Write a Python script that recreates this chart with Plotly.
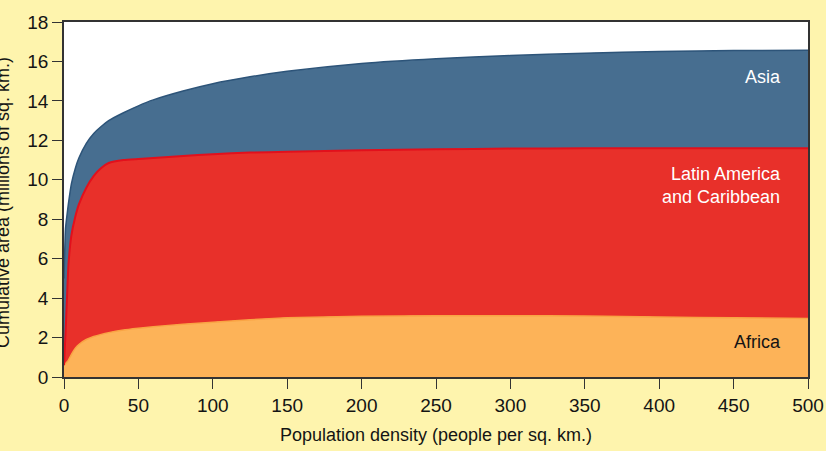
import plotly.graph_objects as go

# Population density (people per sq. km.)
density = [0, 1, 2, 3, 5, 7.5, 10, 15, 20, 25, 30, 40, 50, 60, 80, 100, 125, 150,
           200, 250, 300, 350, 400, 450, 500]

# Cumulative area (millions of sq. km.) (stack tops)
africa_top = [0.6, 0.68, 0.76, 0.86, 1.15, 1.45, 1.65, 1.9, 2.05, 2.16, 2.25, 2.38, 2.47,
              2.55, 2.68, 2.78, 2.9, 3.0, 3.08, 3.1, 3.11, 3.09, 3.04, 3.0, 2.97]
latam_top = [0.6, 2.2, 4.0, 5.7, 7.2, 8.1, 8.75, 9.6, 10.2, 10.6, 10.85, 11.0, 11.05,
             11.1, 11.2, 11.3, 11.38, 11.42, 11.5, 11.55, 11.58, 11.6, 11.6, 11.6, 11.6]
asia_top = [5.0, 7.5, 8.2, 8.8, 9.8, 10.55, 11.1, 11.85, 12.35, 12.7, 13.0, 13.4, 13.75,
            14.05, 14.5, 14.87, 15.22, 15.5, 15.9, 16.14, 16.3, 16.42, 16.5, 16.55, 16.57]

# Per-region areas (stack increments)
africa = africa_top
latam = [b - a for a, b in zip(africa_top, latam_top)]
asia = [c - b for b, c in zip(latam_top, asia_top)]

x_ticks = [0, 50, 100, 150, 200, 250, 300, 350, 400, 450, 500]
y_ticks = [0, 2, 4, 6, 8, 10, 12, 14, 16, 18]

FONT = "Liberation Sans, Arial, sans-serif"
INK = "#141414"

fig = go.Figure()
fig.add_trace(go.Scatter(x=density, y=africa, stackgroup="one", mode="lines",
                         line=dict(color="#F9A444", width=1.5, shape="spline", smoothing=0.5),
                         fillcolor="#FDB358", name="Africa"))
fig.add_trace(go.Scatter(x=density, y=latam, stackgroup="one", mode="lines",
                         line=dict(color="#E2101C", width=2, shape="spline", smoothing=0.5),
                         fillcolor="#E8302A", name="Latin America and Caribbean"))
fig.add_trace(go.Scatter(x=density, y=asia, stackgroup="one", mode="lines",
                         line=dict(color="#2D5479", width=1.5, shape="spline", smoothing=0.5),
                         fillcolor="#476E90", name="Asia"))

label_font = dict(family=FONT, size=18)
fig.add_annotation(text="Asia", x=0.966, xref="paper", y=15.2, yref="y",
                   xanchor="right", showarrow=False, font=dict(color="white", **label_font))
fig.add_annotation(text="Latin America<br>and Caribbean", x=0.966, xref="paper", y=9.7, yref="y",
                   xanchor="right", align="right", showarrow=False,
                   font=dict(color="white", **label_font))
fig.add_annotation(text="Africa", x=0.966, xref="paper", y=1.8, yref="y",
                   xanchor="right", showarrow=False, font=dict(color=INK, **label_font))
fig.add_annotation(text="Cumulative area (millions of sq. km.)", textangle=-90,
                   x=(3 - 64) / 744, xref="paper", xanchor="center",
                   y=0.49, yref="paper", yanchor="middle", showarrow=False,
                   font=dict(family=FONT, size=18, color=INK))

fig.update_layout(
    width=826, height=451,
    margin=dict(l=64, r=18, t=22, b=74),
    paper_bgcolor="#FEF4AD", plot_bgcolor="white",
    showlegend=False,
    font=dict(family=FONT, size=18, color=INK),
)
fig.update_xaxes(range=[0, 500], tickvals=x_ticks, ticks="outside", ticklen=10,
                 tickcolor="#333", showline=True, linecolor="#333", linewidth=1.5,
                 mirror=True, showgrid=False, zeroline=False, automargin=False,
                 title=dict(text="Population density (people per sq. km.)", standoff=14,
                            font=dict(size=18)),
                 tickfont=dict(size=19))
fig.update_yaxes(range=[0, 18], tickvals=y_ticks, ticks="outside", ticklen=10,
                 tickcolor="#333", showline=True, linecolor="#333", linewidth=1.5,
                 mirror=True, showgrid=False, zeroline=False, automargin=False,
                 tickfont=dict(size=19))

fig.write_html("out.html", config={"displayModeBar": False},
               post_script="document.body.style.margin='0px';")
